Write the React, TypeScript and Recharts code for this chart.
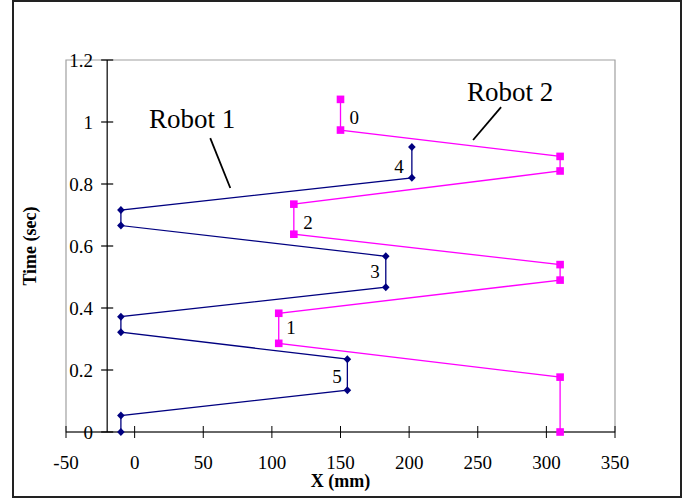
import { ScatterChart, Scatter, XAxis, YAxis, ReferenceLine, ReferenceArea, ReferenceDot, Label } from 'recharts';

const FONT = '"Liberation Serif", "Times New Roman", serif';
const NAVY = '#000080';
const PINK = '#FF00FF';

const xTicks = [-50, 0, 50, 100, 150, 200, 250, 300, 350];
const yTicks = [0, 0.2, 0.4, 0.6, 0.8, 1, 1.2];

// robot 1 path (mm, sec), in travel order
const robot1X = [-10, -10, 155, 155, -10, -10, 183, 183, -10, -10, 202, 202];
const robot1Y = [0, 0.053, 0.135, 0.235, 0.322, 0.372, 0.467, 0.567, 0.666, 0.716, 0.82, 0.919];

// robot 2 path
const robot2X = [310, 310, 105, 105, 310, 310, 116, 116, 310, 310, 150, 150];
const robot2Y = [0, 0.177, 0.286, 0.383, 0.49, 0.54, 0.638, 0.735, 0.842, 0.889, 0.974, 1.073];

// numbered wait segments
const stepNames = ['0', '4', '2', '3', '1', '5'];
const stepX = [160, 192.6, 126.3, 175.2, 114, 147.5];
const stepY = [1.016, 0.858, 0.677, 0.519, 0.339, 0.18];

// callouts
const calloutNames = ['Robot 1', 'Robot 2'];
const calloutX = [41.9, 273.6];
const calloutY = [1.01, 1.1];
const leaderLines = [
  [{ x: 55.1, y: 0.948 }, { x: 69.7, y: 0.787 }],
  [{ x: 267, y: 1.048 }, { x: 246.6, y: 0.942 }],
];

const yAxisAt = -20;

const robot1 = robot1X.map((x, i) => ({ x, y: robot1Y[i] }));
const robot2 = robot2X.map((x, i) => ({ x, y: robot2Y[i] }));

const Diamond = ({ cx, cy }: any) => (
  <polygon points={`${cx},${cy - 4} ${cx + 3.8},${cy} ${cx},${cy + 4} ${cx - 3.8},${cy}`} fill={NAVY} />
);

const Square = ({ cx, cy }: any) => <rect x={cx - 3.8} y={cy - 3.8} width={7.6} height={7.6} fill={PINK} />;

const XTick = ({ x, y, payload }: any) => (
  <g>
    <line x1={x} x2={x} y1={y - 6} y2={y + 6} stroke="#000" />
    <text x={x} y={y + 37} textAnchor="middle" fontSize={19} fontFamily={FONT} fill="#000">
      {payload.value}
    </text>
  </g>
);

const YTick = ({ x, y, payload }: any) => (
  <text x={x + 27} y={y + 7} textAnchor="end" fontSize={19} fontFamily={FONT} fill="#000">
    {payload.value}
  </text>
);

export default function App() {
  return (
    <div style={{ position: 'absolute', left: 0, top: 0, width: 685, height: 498, background: '#fff' }}>
      <div
        style={{
          position: 'absolute',
          left: 12,
          top: 0,
          width: 670,
          height: 498,
          border: '2px solid #222',
          boxSizing: 'border-box',
        }}
      />
      <div style={{ position: 'absolute', left: 0, top: 0 }}>
        <ScatterChart width={685} height={498} margin={{ top: 60, right: 70, bottom: 6, left: 6 }}>
          <XAxis
            type="number"
            dataKey="x"
            domain={[-50, 350]}
            ticks={xTicks}
            interval={0}
            height={60}
            tickSize={0}
            tickMargin={0}
            tickLine={false}
            axisLine={{ stroke: '#000' }}
            tick={<XTick />}
          >
            <Label
              content={({ viewBox }: any) => (
                <text
                  x={viewBox.x + viewBox.width / 2}
                  y={viewBox.y + 55}
                  textAnchor="middle"
                  fontSize={18}
                  fontWeight="bold"
                  fontFamily={FONT}
                  fill="#000"
                >
                  X (mm)
                </text>
              )}
            />
          </XAxis>
          <YAxis
            type="number"
            dataKey="y"
            domain={[0, 1.2]}
            ticks={yTicks}
            interval={0}
            width={60}
            tickSize={0}
            tickMargin={0}
            tickLine={false}
            axisLine={false}
            tick={<YTick />}
          >
            <Label
              content={({ viewBox }: any) => {
                const cx = viewBox.x + viewBox.width - 30;
                const cy = viewBox.y + viewBox.height / 2;
                return (
                  <text
                    x={cx}
                    y={cy}
                    transform={`rotate(-90, ${cx}, ${cy})`}
                    textAnchor="middle"
                    fontSize={18}
                    fontWeight="bold"
                    fontFamily={FONT}
                    fill="#000"
                  >
                    Time (sec)
                  </text>
                );
              }}
            />
          </YAxis>

          <ReferenceArea x1={-50} x2={350} y1={0} y2={1.2} fill="none" stroke="#a0a0a0" strokeWidth={1.2} />
          <ReferenceLine x={yAxisAt} stroke="#000" strokeWidth={1.2} />
          {yTicks.map((t) => (
            <ReferenceLine
              key={t}
              segment={[
                { x: yAxisAt - 4.4, y: t },
                { x: yAxisAt + 4.4, y: t },
              ]}
              stroke="#000"
              strokeWidth={1.2}
            />
          ))}
          {leaderLines.map((seg, i) => (
            <ReferenceLine key={i} segment={seg} stroke="#000" strokeWidth={1.8} />
          ))}

          <Scatter
            data={robot1}
            fill={NAVY}
            line={{ stroke: NAVY, strokeWidth: 1.3 }}
            shape={<Diamond />}
            isAnimationActive={false}
          />
          <Scatter
            data={robot2}
            fill={PINK}
            line={{ stroke: PINK, strokeWidth: 1.3 }}
            shape={<Square />}
            isAnimationActive={false}
          />

          {stepNames.map((name, i) => (
            <ReferenceDot
              key={name}
              x={stepX[i]}
              y={stepY[i]}
              r={0}
              fill="none"
              stroke="none"
              label={{ value: name, position: 'center', fontSize: 19, fontFamily: FONT, fill: '#000' }}
            />
          ))}
          {calloutNames.map((name, i) => (
            <ReferenceDot
              key={name}
              x={calloutX[i]}
              y={calloutY[i]}
              r={0}
              fill="none"
              stroke="none"
              label={{ value: name, position: 'center', fontSize: 27, fontFamily: FONT, fill: '#000' }}
            />
          ))}
        </ScatterChart>
      </div>
    </div>
  );
}
